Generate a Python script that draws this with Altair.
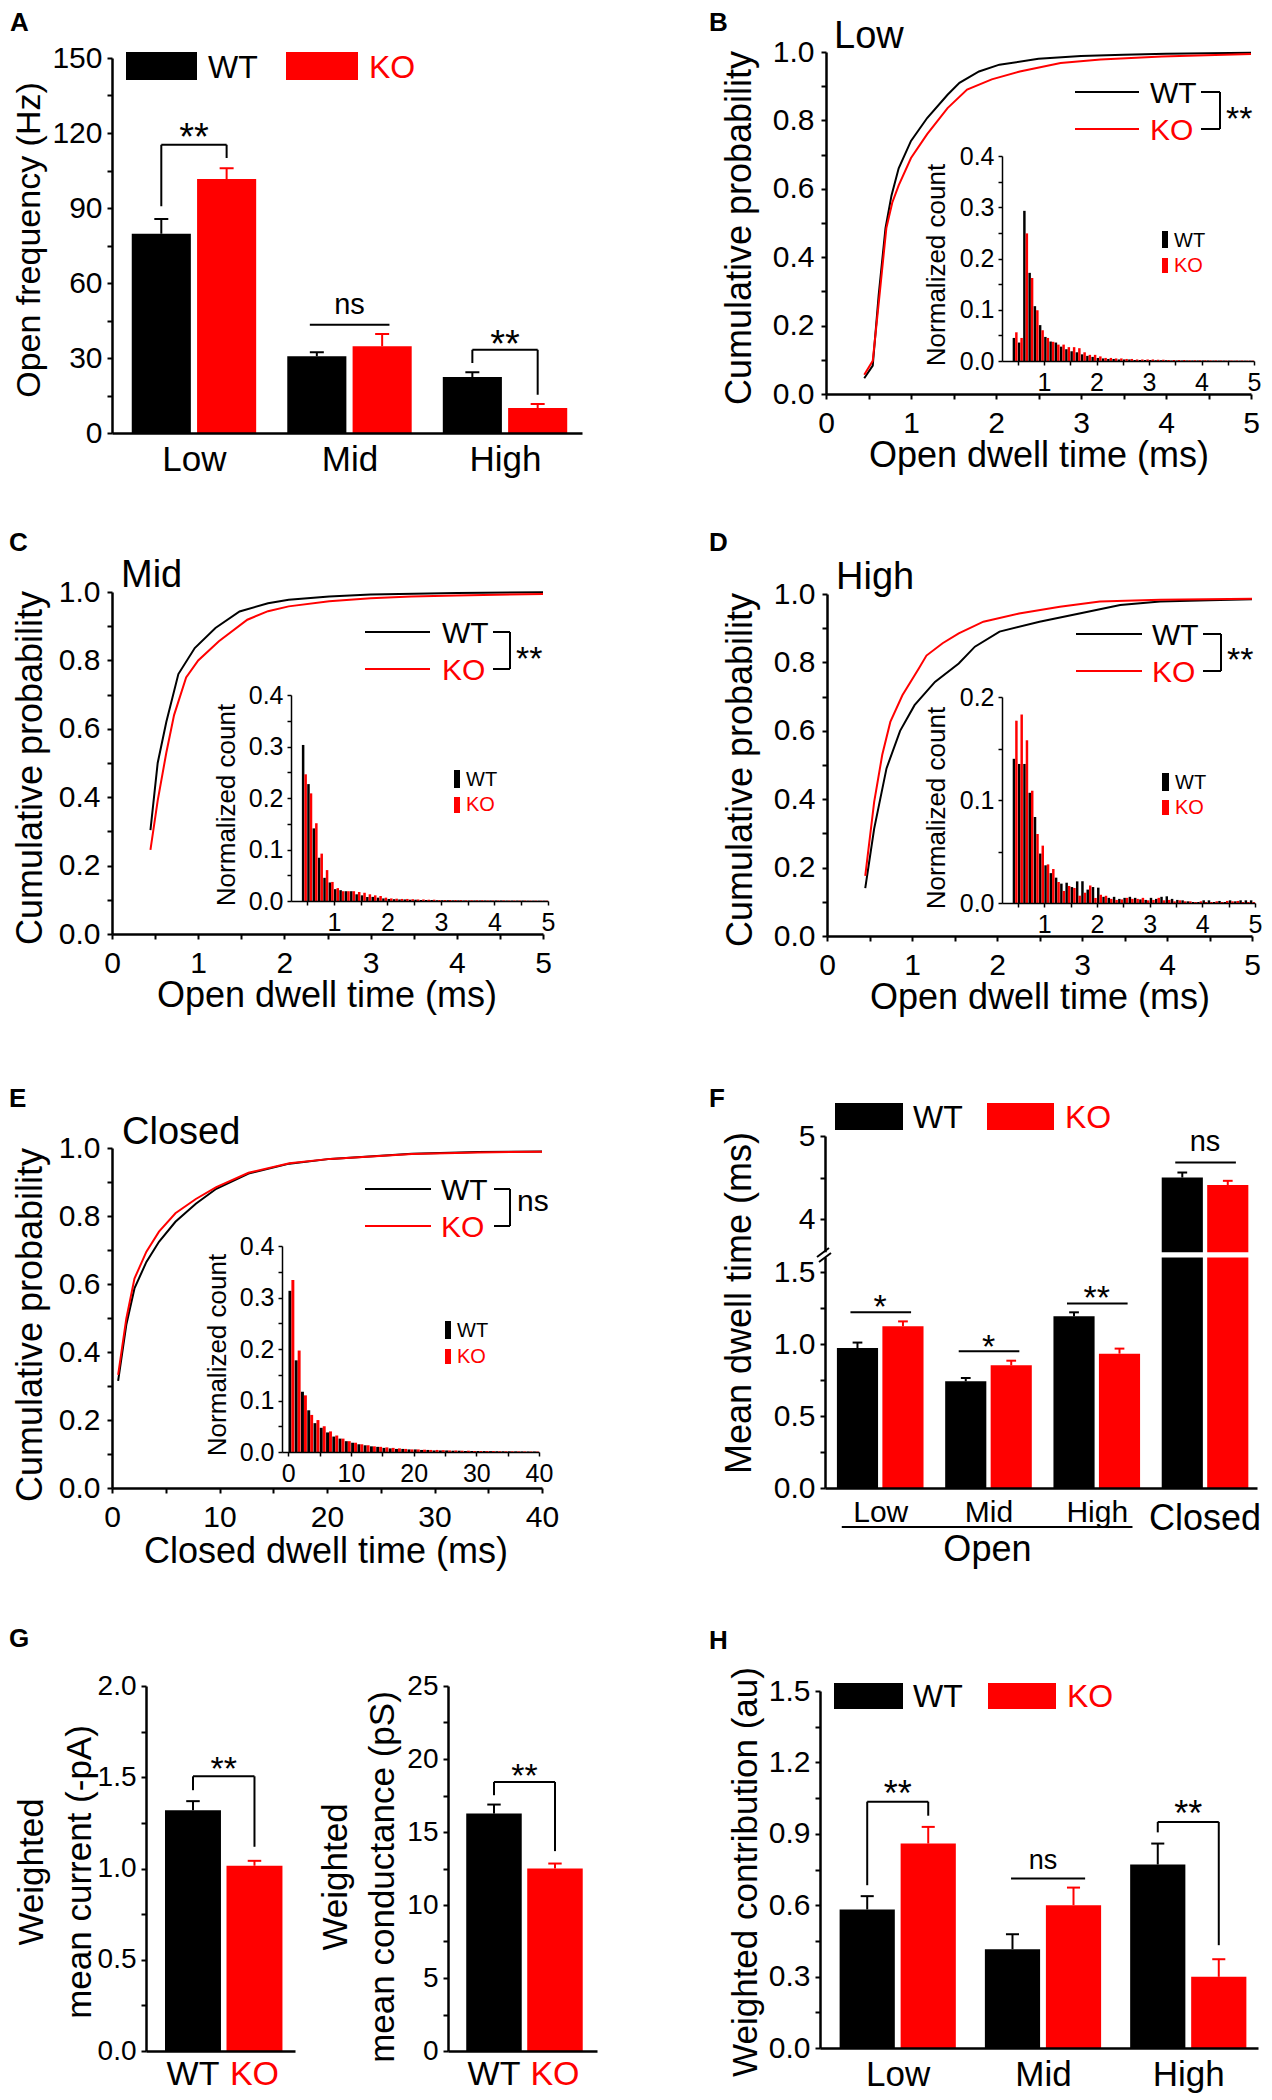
import altair as alt
import pandas as pd

FONT = "Liberation Sans"
BLACK = "#000000"
RED = "#ff0000"
GENOTYPES = ["WT", "KO"]
COLOR_SCALE = alt.Scale(domain=GENOTYPES, range=[BLACK, RED])
DUMMY = pd.DataFrame({"d": [0]})

# ============================ DATA ============================
OPEN_CATS = ["Low", "Mid", "High"]
F_CATS = ["Low", "Mid", "High", "Closed"]
G_CATS = ["WT", "KO"]

# ---- A: open frequency (Hz)
A_wt = [79.7, 30.7, 22.4]
A_wt_err = [5.9, 1.6, 1.9]
A_ko = [101.6, 34.7, 10.0]
A_ko_err = [4.3, 4.9, 1.6]
A_sig_left = [90.7, 43.3, 28.0]
A_sig_top = [115.3, 43.3, 33.3]
A_sig_right = [110.0, 43.3, 15.3]
A_sig_text = ["**", "ns", "**"]
A_sig_text_y = [122.0, 50.7, 39.3]

# ---- cumulative distributions (x in ms, y cumulative probability)
B_wt_x = [0.45, 0.55, 0.62, 0.70, 0.77, 0.855, 1.0, 1.19, 1.43, 1.57, 1.8, 2.04, 2.5, 3.0, 3.5, 4.0, 5.0]
B_wt_y = [0.046, 0.083, 0.29, 0.485, 0.58, 0.66, 0.74, 0.807, 0.875, 0.91, 0.943, 0.963, 0.98, 0.988, 0.992, 0.995, 0.998]
B_ko_x = [0.45, 0.55, 0.63, 0.71, 0.78, 0.855, 1.0, 1.19, 1.43, 1.66, 1.95, 2.28, 2.76, 3.23, 3.95, 5.0]
B_ko_y = [0.056, 0.097, 0.29, 0.485, 0.56, 0.61, 0.69, 0.76, 0.836, 0.89, 0.92, 0.943, 0.968, 0.978, 0.987, 0.994]

C_wt_x = [0.446, 0.53, 0.63, 0.77, 0.96, 1.2, 1.48, 1.81, 2.05, 2.52, 3.0, 4.0, 5.0]
C_wt_y = [0.304, 0.50, 0.62, 0.76, 0.836, 0.895, 0.943, 0.967, 0.977, 0.987, 0.993, 0.997, 0.999]
C_ko_x = [0.446, 0.53, 0.63, 0.72, 0.86, 1.0, 1.24, 1.57, 1.81, 2.05, 2.52, 3.0, 3.47, 4.0, 5.0]
C_ko_y = [0.246, 0.39, 0.53, 0.64, 0.75, 0.80, 0.856, 0.919, 0.944, 0.958, 0.973, 0.982, 0.987, 0.99, 0.994]

D_wt_x = [0.45, 0.555, 0.70, 0.86, 1.03, 1.27, 1.55, 1.74, 2.03, 2.5, 2.97, 3.45, 3.92, 4.5, 5.0]
D_wt_y = [0.14, 0.314, 0.49, 0.60, 0.675, 0.743, 0.797, 0.846, 0.89, 0.919, 0.943, 0.968, 0.978, 0.982, 0.985]
D_ko_x = [0.45, 0.555, 0.65, 0.745, 0.887, 1.08, 1.17, 1.36, 1.55, 1.84, 2.26, 2.74, 3.21, 3.92, 5.0]
D_ko_y = [0.176, 0.392, 0.53, 0.626, 0.704, 0.782, 0.82, 0.856, 0.885, 0.919, 0.943, 0.963, 0.978, 0.983, 0.986]

E_wt_x = [0.57, 1.33, 2.09, 3.2, 4.37, 5.9, 7.8, 9.7, 12.7, 16.5, 20.3, 27.9, 34.0, 40.0]
E_wt_y = [0.315, 0.48, 0.587, 0.665, 0.724, 0.783, 0.836, 0.88, 0.925, 0.954, 0.968, 0.983, 0.988, 0.99]
E_ko_x = [0.57, 1.33, 2.09, 3.2, 4.37, 5.9, 7.8, 9.7, 12.7, 16.5, 20.3, 27.9, 34.0, 40.0]
E_ko_y = [0.333, 0.498, 0.616, 0.695, 0.754, 0.808, 0.85, 0.885, 0.927, 0.955, 0.968, 0.982, 0.987, 0.989]

# ---- inset histograms (normalized count per bin)
OPEN_BINS = [0.4, 0.5, 0.6, 0.7, 0.8, 0.9, 1.0, 1.1, 1.2, 1.3, 1.4, 1.5, 1.6, 1.7, 1.8, 1.9,
             2.0, 2.1, 2.2, 2.3, 2.4, 2.5, 2.6, 2.7, 2.8, 2.9, 3.0, 3.1, 3.2, 3.3, 3.4, 3.5,
             3.6, 3.7, 3.8, 3.9, 4.0, 4.1, 4.2, 4.3, 4.4, 4.5, 4.6, 4.7, 4.8, 4.9]
CLOSED_BINS = [0, 1, 2, 3, 4, 5, 6, 7, 8, 9, 10, 11, 12, 13, 14, 15, 16, 17, 18, 19,
               20, 21, 22, 23, 24, 25, 26, 27, 28, 29, 30, 31, 32, 33, 34, 35, 36, 37, 38, 39]

B_hist_wt = [0.045, 0.036, 0.293, 0.172, 0.107, 0.070, 0.047, 0.038, 0.036, 0.028,
             0.023, 0.019, 0.017, 0.013, 0.010, 0.008, 0.006, 0.005, 0.004, 0.004,
             0.003, 0.003, 0.003, 0.002, 0.002, 0.002, 0.002, 0.0015, 0.0015, 0.0015,
             0.001, 0.001, 0.001, 0.001, 0.001, 0.001, 0.001, 0.001,
             0.0008, 0.0008, 0.0008, 0.0008, 0.0006, 0.0006, 0.0006, 0.0006]
B_hist_ko = [0.056, 0.045, 0.249, 0.162, 0.099, 0.060, 0.045, 0.0375, 0.032, 0.032,
             0.027, 0.027, 0.025, 0.017, 0.012, 0.012, 0.009, 0.006, 0.006, 0.005,
             0.005, 0.004, 0.004, 0.003, 0.003, 0.003, 0.003, 0.0025, 0.0025, 0.002,
             0.002, 0.002, 0.002, 0.0015, 0.0015, 0.0015, 0.0015, 0.0012,
             0.0012, 0.0012, 0.001, 0.001, 0.001, 0.001, 0.0008, 0.0008]

C_hist_wt = [0.303, 0.227, 0.141, 0.084, 0.045, 0.036, 0.023, 0.021, 0.019, 0.019,
             0.013, 0.011, 0.008, 0.008, 0.0065, 0.005, 0.004, 0.0035, 0.003, 0.003,
             0.0025, 0.0025, 0.002, 0.002, 0.002, 0.0015, 0.0015, 0.0015, 0.0012, 0.0012,
             0.001, 0.001, 0.001, 0.001, 0.001, 0.001, 0.001, 0.001,
             0.0008, 0.0008, 0.0008, 0.0008, 0.0006, 0.0006, 0.0006, 0.0006]
C_hist_ko = [0.246, 0.209, 0.151, 0.092, 0.060, 0.037, 0.025, 0.019, 0.019, 0.019,
             0.0175, 0.016, 0.013, 0.011, 0.0097, 0.0065, 0.005, 0.0045, 0.004, 0.004,
             0.0035, 0.003, 0.003, 0.0025, 0.0025, 0.002, 0.002, 0.002, 0.0018, 0.0018,
             0.0015, 0.0015, 0.0015, 0.0015, 0.0012, 0.0012, 0.0012, 0.0012,
             0.001, 0.001, 0.001, 0.001, 0.0008, 0.0008, 0.0008, 0.0008]

D_hist_wt = [0.140, 0.135, 0.135, 0.107, 0.0835, 0.048, 0.0366, 0.029, 0.0246, 0.0188,
             0.0197, 0.0155, 0.021, 0.021, 0.013, 0.0155, 0.0149, 0.006, 0.005, 0.006,
             0.004, 0.005, 0.006, 0.005, 0.0035, 0.003, 0.005, 0.004, 0.006, 0.0065,
             0.004, 0.003, 0.0026, 0.0016, 0.001, 0.001, 0.0026, 0.0026, 0.001, 0.002,
             0.001, 0.0026, 0.0016, 0.0026, 0.0026, 0.0026]
D_hist_ko = [0.177, 0.183, 0.158, 0.109, 0.067, 0.0557, 0.0375, 0.033, 0.0204, 0.0117,
             0.0165, 0.0146, 0.0071, 0.010, 0.017, 0.0049, 0.008, 0.007, 0.004, 0.003,
             0.0035, 0.005, 0.004, 0.004, 0.005, 0.0026, 0.003, 0.005, 0.0026, 0.003,
             0.0016, 0.0026, 0.0016, 0.0016, 0.001, 0.0016, 0.001, 0.001, 0.0016, 0.001,
             0.002, 0.0016, 0.002, 0.001, 0.001, 0.001]

E_hist_wt = [0.313, 0.178, 0.117, 0.081, 0.056, 0.047, 0.038, 0.030, 0.026, 0.021,
             0.018, 0.015, 0.013, 0.011, 0.010, 0.008, 0.007, 0.006, 0.006, 0.005,
             0.005, 0.004, 0.004, 0.003, 0.003, 0.003, 0.0025, 0.0025, 0.002, 0.002,
             0.002, 0.0018, 0.0016, 0.0015, 0.0014, 0.0013, 0.0012, 0.0011, 0.001, 0.001]
E_hist_ko = [0.334, 0.197, 0.110, 0.072, 0.062, 0.050, 0.040, 0.032, 0.026, 0.021,
             0.018, 0.015, 0.013, 0.011, 0.010, 0.009, 0.008, 0.007, 0.006, 0.005,
             0.005, 0.0045, 0.004, 0.004, 0.0035, 0.003, 0.003, 0.0025, 0.0025, 0.002,
             0.002, 0.002, 0.0018, 0.0016, 0.0015, 0.0014, 0.0013, 0.0012, 0.0011, 0.001]

# ---- F: mean dwell time (ms)
F_wt = [0.972, 0.741, 1.192, 4.50]
F_wt_err = [0.038, 0.023, 0.028, 0.06]
F_ko = [1.123, 0.852, 0.933, 4.41]
F_ko_err = [0.034, 0.032, 0.035, 0.05]
F_sig_y = [1.22, 0.949, 1.282, 4.68]
F_sig_text = ["*", "*", "**", "ns"]
F_sig_text_y = [1.32, 1.04, 1.377, 4.91]

# ---- G: weighted mean current (-pA) and conductance (pS)
G1_vals = [1.319, 1.015]
G1_err = [0.05, 0.027]
G1_sig = [1.429, 1.505, 1.119]
G1_sig_text_y = 1.593
G2_vals = [16.26, 12.5]
G2_err = [0.62, 0.34]
G2_sig = [17.52, 18.43, 13.69]
G2_sig_text_y = 19.46

# ---- H: weighted contribution (au)
H_wt = [0.582, 0.415, 0.771]
H_wt_err = [0.056, 0.063, 0.088]
H_ko = [0.859, 0.600, 0.299]
H_ko_err = [0.070, 0.074, 0.074]
H_sig_left = [0.684, 0.712, 0.906]
H_sig_top = [1.035, 0.712, 0.95]
H_sig_right = [0.976, 0.712, 0.432]
H_sig_text = ["**", "ns", "**"]
H_sig_text_y = [1.105, 0.782, 1.019]


# ============================ helpers ============================
def tick_vals(lo, hi, step):
    n = int(round((hi - lo) / step))
    return [round(lo + i * step, 6) for i in range(n + 1)]


def lab(step, fmt):
    return ("abs(datum.value / %s - round(datum.value / %s)) < 0.001 ? format(datum.value, '%s') : ''"
            % (step, step, fmt))


def cat_expr(names):
    return "[" + ",".join("'%s'" % n for n in names) + "][round(datum.value)]"


def ax(values, expr=None, size=30, pad=5, tick=5, dw=2.5, tw=2.0, ticks_on=True, labels=True,
       orient=None, offset=None, z=1):
    kw = dict(values=values, grid=False, title=None, labelFont=FONT, labelFontSize=size,
              labelColor=BLACK, labelPadding=pad, domainColor=BLACK, domainWidth=dw,
              tickColor=BLACK, tickWidth=tw, tickSize=tick, ticks=ticks_on, labels=labels,
              labelFlush=False, labelOverlap=False, zindex=z)
    if expr is not None:
        kw["labelExpr"] = expr
    if orient is not None:
        kw["orient"] = orient
    if offset is not None:
        kw["offset"] = offset
    return alt.Axis(**kw)


def qx(dom, axis, rng=None):
    if rng is None:
        sc = alt.Scale(domain=dom, nice=False, zero=False)
    else:
        sc = alt.Scale(domain=dom, nice=False, zero=False, range=rng)
    return lambda f: alt.X(f, type="quantitative", scale=sc, axis=axis)


def qy(dom, axis, rng=None):
    if rng is None:
        sc = alt.Scale(domain=dom, nice=False, zero=False)
    else:
        sc = alt.Scale(domain=dom, nice=False, zero=False, range=rng)
    return lambda f: alt.Y(f, type="quantitative", scale=sc, axis=axis)


DY = {"cap": 0.358, "star": 0.58, "ns": 0.26, "top": -0.074}


def t_(text, x, y, size, color=BLACK, align="left", mode="cap", angle=None, bold=False):
    kw = dict(text=text, fontSize=size, color=color, align=align, font=FONT,
              fontWeight="bold" if bold else "normal")
    if mode == "mid":
        kw["baseline"] = "middle"
    elif mode == "top":
        kw["baseline"] = "top"
        kw["dy"] = DY["top"] * size
    else:
        kw["baseline"] = "alphabetic"
        kw["dy"] = DY[mode] * size
    if angle:
        kw["angle"] = angle
    return alt.Chart(DUMMY).mark_text(**kw).encode(x=alt.value(x), y=alt.value(y))


def vtitle(text, x, y, size=36):
    return t_(text, x, y, size, align="center", mode="mid", angle=270)


def letter(text, x, y):
    return t_(text, x, y, 26, mode="top", bold=True)


def r_(x0, x1, y0, y1, color):
    return alt.Chart(DUMMY).mark_rect(color=color).encode(
        x=alt.value(x0), x2=alt.value(x1), y=alt.value(y0), y2=alt.value(y1))


def l_(x0, y0, x1, y1, color=BLACK, w=2):
    return alt.Chart(DUMMY).mark_rule(color=color, strokeWidth=w).encode(
        x=alt.value(x0), y=alt.value(y0), x2=alt.value(x1), y2=alt.value(y1))


def finish(layers, W, H, box, resolve=False):
    # invisible frame that fixes each panel's footprint in the figure grid
    L, T, R, B = box
    frame = alt.Chart(DUMMY).mark_rect(opacity=0).encode(
        x=alt.value(-L), x2=alt.value(W + R), y=alt.value(-T), y2=alt.value(H + B))
    ch = alt.layer(frame, *layers)
    if resolve:
        ch = ch.resolve_scale(x="independent", y="independent")
    return ch.properties(width=W, height=H)


COL = alt.Color("geno:N", scale=COLOR_SCALE, legend=None)


def bar_layers(X, Y, wt_pos, ko_pos, wt, wt_err, ko, ko_err, half=0.19, cap=0.045, brk=None):
    rows = []
    for i in range(len(wt)):
        for g, pos, vals, errs in (("WT", wt_pos, wt, wt_err), ("KO", ko_pos, ko, ko_err)):
            c = pos[i]
            rows.append({"geno": g, "x0": c - half, "x1": c + half, "xc": c,
                         "c0": c - cap, "c1": c + cap, "zero": 0.0,
                         "v": vals[i], "top": vals[i] + errs[i]})
    base = alt.Chart(pd.DataFrame(rows))
    yz, yv, yt = "zero", "v", "top"
    if brk is not None:
        base = base.transform_calculate(zero_d=brk("zero"), v_d=brk("v"), top_d=brk("top"))
        yz, yv, yt = "zero_d", "v_d", "top_d"
    bars = base.mark_rect().encode(x=X("x0"), x2="x1", y=Y(yz), y2=yv, color=COL)
    err = base.mark_rule(strokeWidth=2).encode(x=X("xc"), y=Y(yv), y2=yt, color=COL)
    caps = base.mark_rule(strokeWidth=2).encode(x=X("c0"), x2="c1", y=Y(yt), color=COL)
    return [bars, err, caps]


def sig_layers(X, Y, xl, xr, left, top, right, texts, text_y, flat, span, star, ns, brk=None):
    segs = []
    out = []
    for a, b, yl, yt, yr, tx, ty, fl in zip(xl, xr, left, top, right, texts, text_y, flat):
        c = (a + b) / 2.0
        if fl:
            segs.append({"x": c + span[0], "x2": c + span[1], "y": yt, "y2": yt})
        else:
            segs += [{"x": a, "x2": a, "y": yl, "y2": yt},
                     {"x": a, "x2": b, "y": yt, "y2": yt},
                     {"x": b, "x2": b, "y": yt, "y2": yr}]
        mode = "ns" if tx == "ns" else "star"
        size = ns if tx == "ns" else star
        tb = alt.Chart(pd.DataFrame({"x": [c], "y": [ty]}))
        yf = "y"
        if brk is not None:
            tb = tb.transform_calculate(y_d=brk("y"))
            yf = "y_d"
        out.append(tb.mark_text(
            text=tx, fontSize=size, font=FONT, color=BLACK, align="center",
            baseline="alphabetic", dy=DY[mode] * size).encode(x=X("x"), y=Y(yf)))
    sb = alt.Chart(pd.DataFrame(segs))
    y1, y2 = "y", "y2"
    if brk is not None:
        sb = sb.transform_calculate(y_d=brk("y"), y2_d=brk("y2"))
        y1, y2 = "y_d", "y2_d"
    rule = sb.mark_rule(color=BLACK, strokeWidth=2).encode(x=X("x"), x2="x2", y=Y(y1), y2=y2)
    return [rule] + out


# ============================ panels ============================
def panel_A(box):
    W, H, ys = 470, 381, 6
    X = qx([-0.527, 2.495], ax([0, 1, 2], expr=cat_expr(OPEN_CATS), size=35, pad=9, tick=0,
                                ticks_on=False, orient="bottom"))
    Y = qy([0, 150], ax(tick_vals(0, 150, 15), expr=lab(30, "d"), size=30, pad=5, orient="left"),
           rng=[H, ys])
    wt_pos = [i - 0.21 for i in range(3)]
    ko_pos = [i + 0.21 for i in range(3)]
    layers = bar_layers(X, Y, wt_pos, ko_pos, A_wt, A_wt_err, A_ko, A_ko_err)
    layers += sig_layers(X, Y, wt_pos, ko_pos, A_sig_left, A_sig_top, A_sig_right, A_sig_text,
                         A_sig_text_y, [False, True, False], (-0.255, 0.257), 38, 29)
    layers += [r_(14, 85, ys - 6, ys + 22, BLACK), t_("WT", 96, ys + 8.5, 32),
               r_(174, 246, ys - 6, ys + 22, RED), t_("KO", 257, ys + 8.5, 32, RED),
               vtitle("Open frequency (Hz)", -82, ys + 182, 34),
               letter("A", -102, -40)]
    return finish(layers, W, H, box)


def cdf_panel(c, box):
    W, H = c["W"], c["H"]
    X = qx([0, c["xmax"]], ax(tick_vals(0, c["xmax"], c["xminor"]), expr=lab(c["xmajor"], "d"),
                              size=30, pad=9, orient="bottom"))
    Y = qy([0, 1], ax(tick_vals(0, 1, 0.1), expr=lab(0.2, ".1f"), size=30, pad=7, orient="left"),
           rng=[H, c["ys"]])
    wx, wy = c["wt"]
    kx, ky = c["ko"]
    df = pd.DataFrame({"x": wx + kx, "y": wy + ky, "geno": ["WT"] * len(wx) + ["KO"] * len(kx)})
    lines = alt.Chart(df).mark_line(strokeWidth=2).encode(x=X("x"), y=Y("y"), color=COL)

    yb = c["iyrng"][0]
    Xi = qx(c["ixdom"], ax(c["ixticks"], expr=lab(c["ixmajor"], "d"), size=25, pad=5, tick=4, dw=1.5,
                           tw=1.5, orient="bottom", offset=-(H - yb)), rng=c["ixrng"])
    Yi = qy(c["iydom"], ax(c["iyticks"], expr=lab(0.1, ".1f"), size=25, pad=4, tick=4, dw=1.5, tw=1.5,
                           orient="left", offset=-c["ixrng"][0]), rng=c["iyrng"])
    rows = []
    bw = c["bw"]
    for s, hw, hk in zip(c["bins"], c["hwt"], c["hko"]):
        rows.append({"geno": "WT", "b0": s + 0.03 * bw, "b1": s + 0.5 * bw, "h": hw, "z": 0.0})
        rows.append({"geno": "KO", "b0": s + 0.5 * bw, "b1": s + 0.97 * bw, "h": hk, "z": 0.0})
    hist = alt.Chart(pd.DataFrame(rows)).mark_rect().encode(
        x=Xi("b0"), x2="b1", y=Yi("z"), y2="h", color=COL)

    lx0, lx1, yw, yk, tx, bx0, bx1, sg, sx, sy = c["leg"]
    ix0, ix1, wy0, wy1, ky0, ky1, itx, ity_w, ity_k = c["ileg"]
    txt = [
        letter(c["letter"][0], c["letter"][1], c["letter"][2]),
        t_(c["title"][0], c["title"][1], c["title"][2], 38),
        vtitle("Cumulative probability", c["ytitle"][0], c["ytitle"][1]),
        t_(c["xtitle"][0], c["xtitle"][1], c["xtitle"][2], 36, align="center"),
        l_(lx0, yw, lx1, yw, BLACK), t_("WT", tx, yw, 30),
        l_(lx0, yk, lx1, yk, RED), t_("KO", tx, yk, 30, RED),
        l_(bx0, yw, bx1, yw), l_(bx1, yw, bx1, yk), l_(bx0, yk, bx1, yk),
        t_(sg, sx, sy, 30 if sg == "ns" else 34, mode="ns" if sg == "ns" else "star"),
        vtitle("Normalized count", c["ititle"][0], c["ititle"][1], 26),
        r_(ix0, ix1, wy0, wy1, BLACK), t_("WT", itx, ity_w, 20),
        r_(ix0, ix1, ky0, ky1, RED), t_("KO", itx, ity_k, 20, RED),
    ]
    return finish([lines, hist] + txt, W, H, box, resolve=True)


OPEN_INSET = dict(bins=OPEN_BINS, bw=0.1, ixdom=[0.2, 5], ixticks=tick_vals(0.5, 5, 0.5), ixmajor=1)

CFG_B = dict(OPEN_INSET, W=425, H=342, ys=0, xmax=5, xminor=0.5, xmajor=1,
             letter=("B", -117, -40), title=("Low", 8, -17.5),
             ytitle=(-86, 176), xtitle=("Open dwell time (ms)", 213, 402),
             leg=(249, 313, 40, 77, 324, 375, 394, "**", 400, 58),
             wt=(B_wt_x, B_wt_y), ko=(B_ko_x, B_ko_y), hwt=B_hist_wt, hko=B_hist_ko,
             ixrng=[176, 428], iydom=[0, 0.4], iyrng=[309, 104], iyticks=tick_vals(0, 0.4, 0.05),
             ititle=(111, 213), ileg=(336, 342, 179, 196, 206, 221, 348, 188, 213))

CFG_C = dict(OPEN_INSET, W=431, H=342, ys=0, xmax=5, xminor=0.5, xmajor=1,
             letter=("C", -103, -60), title=("Mid", 9, -18.5),
             ytitle=(-81, 176), xtitle=("Open dwell time (ms)", 215, 402),
             leg=(253, 318, 40, 77, 330, 381, 398, "**", 404, 58),
             wt=(C_wt_x, C_wt_y), ko=(C_ko_x, C_ko_y), hwt=C_hist_wt, hko=C_hist_ko,
             ixrng=[179, 436], iydom=[0, 0.4], iyrng=[309, 103], iyticks=tick_vals(0, 0.4, 0.05),
             ititle=(115, 213), ileg=(342, 348, 178, 196, 205, 221, 354, 187, 212))

CFG_D = dict(OPEN_INSET, W=425, H=344, ys=2, xmax=5, xminor=0.5, xmajor=1,
             letter=("D", -118, -60), title=("High", 9, -17),
             ytitle=(-86, 178), xtitle=("Open dwell time (ms)", 213, 404),
             leg=(249, 315, 42, 79, 325, 376, 394, "**", 400, 59),
             wt=(D_wt_x, D_wt_y), ko=(D_ko_x, D_ko_y), hwt=D_hist_wt, hko=D_hist_ko,
             ixrng=[175, 428], iydom=[0, 0.2], iyrng=[311, 105], iyticks=tick_vals(0, 0.2, 0.05),
             ititle=(110, 216), ileg=(335, 342, 181, 199, 208, 223, 348, 190, 215))

CFG_E = dict(W=430, H=352, ys=12, xmax=40, xminor=5, xmajor=10,
             letter=("E", -103, -48), title=("Closed", 10, -6),
             ytitle=(-81, 189), xtitle=("Closed dwell time (ms)", 214, 414),
             leg=(253, 319, 53, 90, 329, 382, 398, "ns", 405, 67),
             wt=(E_wt_x, E_wt_y), ko=(E_ko_x, E_ko_y), hwt=E_hist_wt, hko=E_hist_ko,
             bins=CLOSED_BINS, bw=1.0, ixdom=[-1, 40], ixticks=tick_vals(0, 40, 5), ixmajor=10,
             ixrng=[170, 427], iydom=[0, 0.4], iyrng=[316, 110], iyticks=tick_vals(0, 0.4, 0.05),
             ititle=(106, 219), ileg=(333, 339, 185, 203, 213, 228, 345, 194, 220))


def panel_F(box):
    W, H = 432, 352
    GAP, K, LOW_TOP, HIGH_BOT = 0.0375, 0.5764, 1.6, 3.6

    def disp(v):
        return v if v <= LOW_TOP else LOW_TOP + GAP + (v - HIGH_BOT) * K

    def brk(f):
        return ("datum.%s <= %s ? datum.%s : %s + (datum.%s - %s) * %s"
                % (f, LOW_TOP, f, LOW_TOP + GAP, f, HIGH_BOT, K))

    lower_ticks = tick_vals(0, 1.5, 0.25)
    upper_ticks = [4, 4.5, 5]
    tvals, tlabs = [], []
    for v in lower_ticks:
        tvals.append(v)
        tlabs.append("%.1f" % v if abs(v / 0.5 - round(v / 0.5)) < 1e-6 else "")
    for v in upper_ticks:
        tvals.append(round(disp(v), 6))
        tlabs.append("%d" % v if abs(v - round(v)) < 1e-6 else "")
    expr = "".join("abs(datum.value - %r) < 0.0001 ? '%s' : " % (dv, lb) for dv, lb in zip(tvals, tlabs)) + "''"
    X = qx([-0.51, 3.48], ax([0, 1, 2], expr=cat_expr(OPEN_CATS), size=30, pad=9, tick=0,
                              ticks_on=False, orient="bottom"))
    Y = qy([0, disp(5.0)], ax(tvals, expr=expr, size=30, pad=5, orient="left", z=0))
    wt_pos = [i - 0.21 for i in range(4)]
    ko_pos = [i + 0.21 for i in range(4)]
    layers = bar_layers(X, Y, wt_pos, ko_pos, F_wt, F_wt_err, F_ko, F_ko_err, brk=brk)
    layers += sig_layers(X, Y, wt_pos, ko_pos, F_sig_y, F_sig_y, F_sig_y, F_sig_text, F_sig_text_y,
                         [True] * 4, (-0.275, 0.285), 34, 29, brk=brk)
    gap = alt.Chart(pd.DataFrame({"a": [LOW_TOP], "b": [LOW_TOP + GAP]})).mark_rect(color="white").encode(
        x=alt.value(-14), x2=alt.value(W), y=Y("a"), y2="b")
    closed = alt.Chart(pd.DataFrame({"x": [3]})).mark_text(
        text=F_CATS[3], fontSize=36, font=FONT, color=BLACK, align="center", baseline="alphabetic",
        dy=DY["cap"] * 36).encode(x=X("x"), y=alt.value(381))
    under = alt.Chart(pd.DataFrame({"x": [-0.355], "x2": [2.33]})).mark_rule(
        color=BLACK, strokeWidth=2).encode(x=X("x"), x2="x2", y=alt.value(391))
    open_t = alt.Chart(pd.DataFrame({"x": [0.99]})).mark_text(
        text="Open", fontSize=36, font=FONT, color=BLACK, align="center", baseline="alphabetic",
        dy=DY["cap"] * 36).encode(x=X("x"), y=alt.value(412))
    layers += [gap, closed, under, open_t,
               l_(-8, 121, 4, 112), l_(-6, 126, 6, 117),
               r_(10, 78, -33, -6, BLACK), t_("WT", 88, -19, 32),
               r_(162, 229, -33, -6, RED), t_("KO", 240, -19, 32, RED),
               vtitle("Mean dwell time (ms)", -85, 167),
               letter("F", -116, -48)]
    return finish(layers, W, H, box)


def g_sub(vals, err, sig, sig_ty, ydom, ystep, ymajor, fmt, dom_x, xr, H):
    X = qx(dom_x, ax([0], size=28, tick=0, ticks_on=False, labels=False, orient="bottom"), rng=xr)
    Y = qy(ydom, ax(tick_vals(ydom[0], ydom[1], ystep), expr=lab(ymajor, fmt), size=28, pad=5,
                    orient="left", offset=-xr[0]), rng=[H, 0])
    layers = bar_layers(X, Y, [0], [1], vals[:1], err[:1], vals[1:], err[1:], half=0.455, cap=0.11)
    layers += sig_layers(X, Y, [0], [1], [sig[0]], [sig[1]], [sig[2]], ["**"], [sig_ty], [False],
                         (0, 0), 34, 29)
    for i, (name, color) in enumerate(zip(G_CATS, [BLACK, RED])):
        layers.append(alt.Chart(pd.DataFrame({"x": [i]})).mark_text(
            text=name, fontSize=34, font=FONT, color=color, align="center", baseline="alphabetic",
            dy=DY["cap"] * 34).encode(x=X("x"), y=alt.value(387)))
    return alt.layer(*layers)


def panel_G(box):
    W, H = 485, 365
    g1 = g_sub(G1_vals, G1_err, G1_sig, G1_sig_text_y, [0, 2.0], 0.25, 0.5, ".1f",
               [-0.764, 1.659], [34, 183], H)
    g2 = g_sub(G2_vals, G2_err, G2_sig, G2_sig_text_y, [0, 25], 2.5, 5, "d",
               [-0.754, 1.689], [336, 485], H)
    txt = [vtitle("Weighted", -80, 186, 35), vtitle("mean current (-pA)", -32, 186, 35),
           vtitle("Weighted", 224, 191, 35), vtitle("mean conductance (pS)", 271, 191, 35),
           letter("G", -103, -58)]
    return finish([g1, g2] + txt, W, H, box, resolve=True)


def panel_H(box):
    W, H, ys = 438, 362, 5
    X = qx([-0.535, 2.48], ax([0, 1, 2], expr=cat_expr(OPEN_CATS), size=35, pad=9, tick=0,
                               ticks_on=False, orient="bottom"))
    Y = qy([0, 1.5], ax(tick_vals(0, 1.5, 0.15), expr=lab(0.3, ".1f"), size=30, pad=5, orient="left"),
           rng=[H, ys])
    wt_pos = [i - 0.21 for i in range(3)]
    ko_pos = [i + 0.21 for i in range(3)]
    layers = bar_layers(X, Y, wt_pos, ko_pos, H_wt, H_wt_err, H_ko, H_ko_err)
    layers += sig_layers(X, Y, wt_pos, ko_pos, H_sig_left, H_sig_top, H_sig_right, H_sig_text,
                         H_sig_text_y, [False, True, False], (-0.22, 0.29), 36, 27)
    layers += [r_(14, 83, ys - 8, ys + 18, BLACK), t_("WT", 93, ys + 5, 32),
               r_(168, 236, ys - 8, ys + 18, RED), t_("KO", 247, ys + 5, 32, RED),
               vtitle("Weighted contribution (au)", -74, ys + 181, 35),
               letter("H", -111, -56)]
    return finish(layers, W, H, box)


# ============================ layout ============================
# frames (left, top, right, bottom) around each plot area; together they tile a 1256 x 2084 page
pA = panel_A((104, 44, 119, 95))
pB = cdf_panel(CFG_B, (125, 44, 13, 134))
pC = cdf_panel(CFG_C, (104, 64, 159, 150))
pD = cdf_panel(CFG_D, (125, 64, 12, 148))
pE = cdf_panel(CFG_E, (104, 52, 158, 136))
pF = panel_F((125, 52, 7, 136))
pG = panel_G((104, 62, 98, 41))
pH = panel_H((125, 62, 6, 44))

row1 = alt.hconcat(pA, pB, spacing=0)
row2 = alt.hconcat(pC, pD, spacing=0)
row3 = alt.hconcat(pE, pF, spacing=0)
row4 = alt.hconcat(pG, pH, spacing=0)

chart = alt.vconcat(row1, row2, row3, row4, spacing=0, padding=0)
chart = chart.configure(font=FONT).configure_view(stroke=None)
chart.save("out.html", embed_options={"renderer": "svg", "actions": False})
